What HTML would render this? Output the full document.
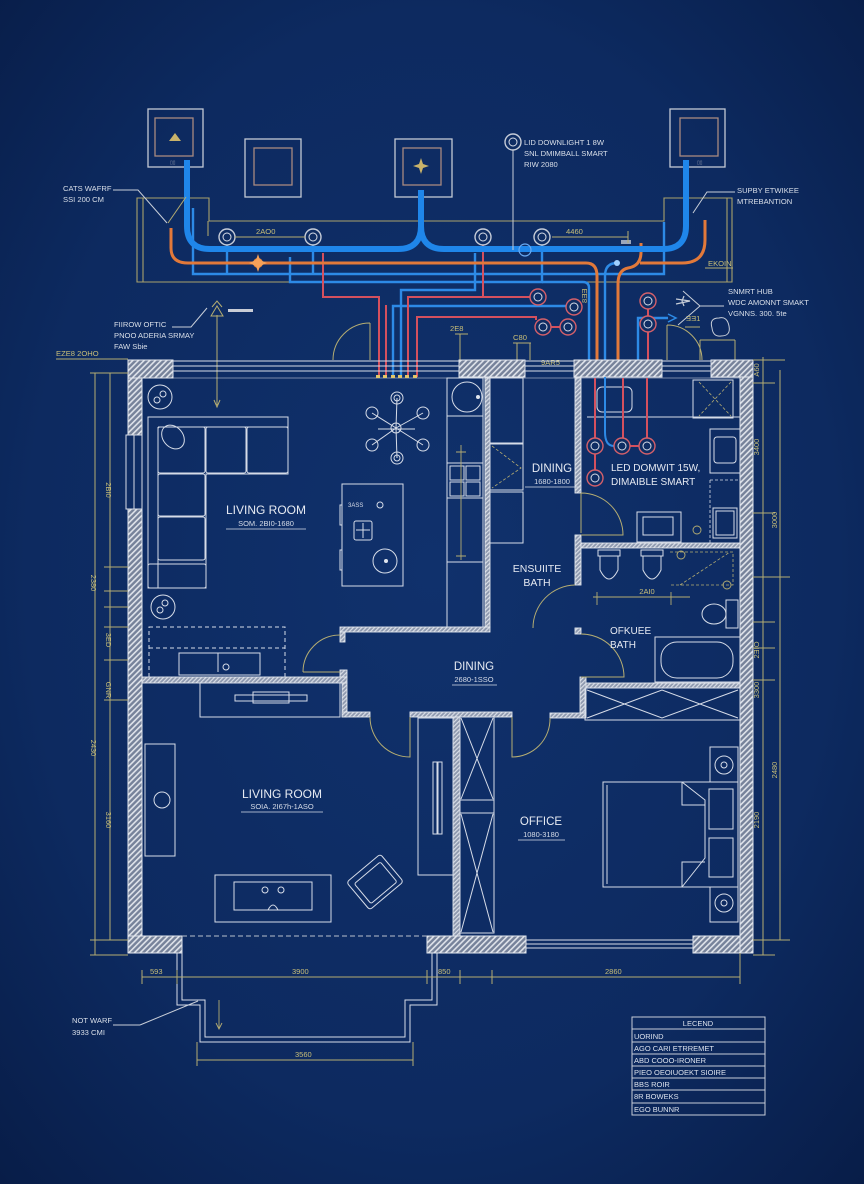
<!DOCTYPE html>
<html><head><meta charset="utf-8"><style>html,body{margin:0;padding:0;background:#0c275a}svg{display:block}</style></head><body>
<svg width="864" height="1184" viewBox="0 0 864 1184" xmlns="http://www.w3.org/2000/svg" font-family="Liberation Sans, sans-serif">
<defs>
<radialGradient id="bg" cx="50%" cy="48%" r="72%"><stop offset="0" stop-color="#10316c"/><stop offset="0.65" stop-color="#0d2a60"/><stop offset="1" stop-color="#081d48"/></radialGradient>
<pattern id="h" width="4" height="4" patternUnits="userSpaceOnUse" patternTransform="rotate(45)"><rect width="4" height="4" fill="#76829a"/><rect width="1.6" height="4" fill="#dfe3ea"/></pattern>
<pattern id="h2" width="3" height="3" patternUnits="userSpaceOnUse" patternTransform="rotate(45)"><rect width="3" height="3" fill="#8d98ae"/><rect width="1.2" height="3" fill="#d8dde6"/></pattern>
</defs>
<rect width="864" height="1184" fill="url(#bg)"/>

<!-- ===== TOP ZONE ===== -->
<g fill="none" stroke="#c3c9d4" stroke-width="1.3">
<rect x="148" y="109" width="55" height="58"/>
<rect x="245" y="139" width="56" height="58"/>
<rect x="395" y="139" width="57" height="58"/>
<rect x="670" y="109" width="55" height="58"/>
</g>
<g fill="none" stroke="#a88a80" stroke-width="1.3">
<rect x="155" y="118" width="38" height="38"/>
<rect x="254" y="148" width="38" height="37"/>
<rect x="403" y="148" width="38" height="37"/>
<rect x="680" y="118" width="38" height="38"/>
</g>
<path d="M169,141 L175,133 L181,141 Z" fill="#c9b36a"/>
<path d="M421,158 L423,164 L429,166 L423,168 L421,174 L419,168 L413,166 L419,164 Z" fill="#c9b36a"/>
<text x="170" y="164" font-size="5" fill="#8b93a6">▯▯</text>
<text x="697" y="164" font-size="5" fill="#8b93a6">▯▯</text>

<!-- olive frame -->
<g fill="none" stroke="#a9a26c" stroke-width="1.1">
<path d="M137,198 H209 V221 H664 V198 H732 V282 H137 Z"/>
<line x1="143" y1="198" x2="143" y2="282"/>
<line x1="727" y1="198" x2="727" y2="282"/>
<line x1="208" y1="221" x2="208" y2="236"/>
</g>

<!-- thin blue pipes -->
<g fill="none" stroke="#2d8ae6" stroke-width="2.4">
<path d="M193,208 V274 H664 V222"/>
<path d="M227,245 V274"/>
<path d="M313,245 V274"/>
<path d="M542,245 V282 H290 V257"/>
<path d="M589,377 V288 Q589,282 583,282 H542"/>
<path d="M475,253 V290 H401 V377"/>
<path d="M393,377 V306 H566"/>
<path d="M617,263 Q605,263 605,276 V377"/>
<path d="M638,377 V318 H668"/>
</g>
<path d="M668,314 L676,318 L668,322" fill="none" stroke="#2d8ae6" stroke-width="1.5"/>
<!-- red pipes -->
<g fill="none" stroke="#d4505e" stroke-width="2">
<path d="M323,253 V297 H379 V377"/>
<path d="M386,305 V377"/>
<path d="M483,245 V297 H408 V377"/>
<path d="M483,297 H530"/>
<path d="M417,377 V317 H536 V320"/>
<path d="M551,327 H560"/>
<path d="M648,309 V316"/>
<path d="M648,332 V377"/>
</g>
<!-- orange pipes -->
<g fill="none" stroke="#e2793a" stroke-width="3">
<path d="M171,228 V248 Q171,263 188,263 H586 Q597,263 597,276 V377"/>
<path d="M641,243 V252 Q641,266 628,268 Q618,270 618,284 V377"/>
<path d="M705,220 V240 Q705,263 682,263 H640"/>
</g>
<circle cx="258" cy="263" r="5" fill="#f08a3a"/>
<path d="M258,254 L260,260 L267,263 L260,266 L258,272 L256,266 L249,263 L256,260 Z" fill="#f5a15a"/>
<!-- thick blue main -->
<path d="M187,160 V226 Q187,249 210,249 H398 Q421,249 421,226 V190 M421,226 Q421,249 444,249 H663 Q686,249 686,226 V160" fill="none" stroke="#1f86ea" stroke-width="6"/>
<circle cx="525" cy="250" r="6" fill="none" stroke="#6aaaf2" stroke-width="1.2"/>
<circle cx="617" cy="263" r="3" fill="#9fd0ff"/>
<rect x="621" y="240" width="10" height="4" fill="#9aa6bb"/>

<!-- sensor circles -->
<g stroke-width="1.4">
<g fill="#0f2d63" stroke="#c6ccd8">
<circle cx="227" cy="237" r="8"/><circle cx="313" cy="237" r="8"/>
<circle cx="483" cy="237" r="8"/><circle cx="542" cy="237" r="8"/>
<circle cx="513" cy="142" r="8"/>
</g>
<g fill="#0f2d63" stroke="#d4606a">
<circle cx="538" cy="297" r="8"/><circle cx="574" cy="307" r="8"/>
<circle cx="543" cy="327" r="8"/><circle cx="568" cy="327" r="8"/>
<circle cx="648" cy="301" r="8"/><circle cx="648" cy="324" r="8"/>
</g>
<g fill="none" stroke="#d8dde8" stroke-width="1">
<circle cx="227" cy="237" r="4"/><circle cx="313" cy="237" r="4"/>
<circle cx="483" cy="237" r="4"/><circle cx="542" cy="237" r="4"/><circle cx="513" cy="142" r="4"/>
<circle cx="538" cy="297" r="4"/><circle cx="574" cy="307" r="4"/>
<circle cx="543" cy="327" r="4"/><circle cx="568" cy="327" r="4"/>
<circle cx="648" cy="301" r="4"/><circle cx="648" cy="324" r="4"/>
</g>
</g>

<!-- dims / leaders top -->
<g fill="none" stroke="#b5ad72" stroke-width="1">
<line x1="235" y1="237" x2="305" y2="237"/>
<line x1="552" y1="237" x2="628" y2="237"/><line x1="628" y1="231" x2="628" y2="243"/>
<line x1="705" y1="268" x2="733" y2="268"/>
<line x1="455" y1="334" x2="468" y2="334"/><line x1="460" y1="334" x2="460" y2="360"/>
<line x1="513" y1="343" x2="531" y2="343"/><line x1="517" y1="343" x2="517" y2="360"/><line x1="530" y1="343" x2="530" y2="360"/>
<line x1="520" y1="366" x2="575" y2="366"/>
<line x1="685" y1="327" x2="700" y2="327"/><line x1="700" y1="340" x2="735" y2="340"/>
<line x1="700" y1="340" x2="700" y2="360"/><line x1="735" y1="340" x2="735" y2="360"/>
<line x1="217" y1="315" x2="217" y2="405"/>
<path d="M214,400 L217,407 L220,400"/>
<path d="M211,316 L217,306 L223,316 Z"/>
<path d="M212,307 L217,301 L222,307"/>
<line x1="56" y1="359" x2="128" y2="359"/>
<path d="M370,323 V360 M333,360 A37,37 0 0 1 370,323"/>
<path d="M667,325 V360 M667,325 A35,35 0 0 1 702,360"/>
<path d="M168,223 L186,197"/>
</g>
<rect x="228" y="309" width="25" height="3" fill="#c8ccd6"/>
<g fill="none" stroke="#c8ced8" stroke-width="1">
<path d="M113,190 H138 L167,223"/>
<line x1="513" y1="150" x2="513" y2="250"/>
<path d="M735,192 H707 L693,213"/>
<path d="M724,306 H700 L683,291 M700,306 L678,325"/>
<path d="M172,327 H191 L207,308"/>
<path d="M140,1025 L198,1001 M113,1025 H140"/>
</g>
<path d="M676,299 L690,301 L676,304 M684,296 L682,301 L684,306" fill="none" stroke="#c8ced8" stroke-width="1.2"/>
<path d="M712,328 q-3,-10 7,-10 q8,-2 10,8 q2,10 -8,10 q-8,1 -9,-8z" fill="none" stroke="#c8ced8" stroke-width="1"/>

<g font-size="7.6" fill="#d9dfe9">
<text x="63" y="191">CATS WAFRF</text>
<text x="63" y="202">SSI 200 CM</text>
<text x="524" y="145">LID DOWNLIGHT 1 8W</text>
<text x="524" y="156">SNL DMIMBALL SMART</text>
<text x="524" y="167">RIW 2080</text>
<text x="737" y="193">SUPBY ETWIKEE</text>
<text x="737" y="204">MTREBANTION</text>
<text x="728" y="294">SNMRT HUB</text>
<text x="728" y="305">WDC AMONNT SMAKT</text>
<text x="728" y="316">VGNNS. 300. 5te</text>
<text x="114" y="327">FIIROW OFTIC</text>
<text x="114" y="338">PNOO ADERIA SRMAY</text>
<text x="114" y="349">FAW Sbie</text>
<text x="72" y="1023">NOT WARF</text>
<text x="72" y="1035">3933 CMI</text>
</g>
<g font-size="7.6" fill="#c9bf78">
<text x="256" y="234">2AO0</text>
<text x="566" y="234">4460</text>
<text x="708" y="266">EKOIN</text>
<text x="450" y="331">2E8</text>
<text x="513" y="340">C80</text>
<text x="541" y="365">9AR5</text>
<text x="686" y="321">ƎƎ1</text>
<text x="56" y="356">EZE8 2OHO</text>
<text x="0" y="0" transform="translate(587,303) rotate(-90)">8ƎƎ</text>
</g>

<!-- ===== BUILDING WALLS ===== -->
<g fill="url(#h)" stroke="#e3e7ee" stroke-width="1">
<rect x="128" y="360" width="45" height="18"/>
<rect x="459" y="360" width="66" height="17"/>
<rect x="574" y="360" width="88" height="17"/>
<rect x="711" y="360" width="42" height="17"/>
<rect x="128" y="378" width="14" height="57"/>
<rect x="128" y="509" width="14" height="444"/>
<rect x="740" y="377" width="13" height="576"/>
<rect x="128" y="936" width="54" height="17"/>
<rect x="427" y="936" width="99" height="17"/>
<rect x="693" y="936" width="47" height="17"/>
</g>
<!-- windows -->
<g fill="none" stroke="#d8dde7" stroke-width="1">
<rect x="173" y="361" width="286" height="10"/><line x1="173" y1="366" x2="459" y2="366"/>
<rect x="525" y="361" width="49" height="10"/><line x1="525" y1="366" x2="574" y2="366"/>
<rect x="662" y="361" width="49" height="10"/><line x1="662" y1="366" x2="711" y2="366"/>
<rect x="126" y="435" width="16" height="74"/><line x1="134" y1="435" x2="134" y2="509"/>
<rect x="526" y="940" width="167" height="8"/><line x1="526" y1="944" x2="693" y2="944"/>
<line x1="142" y1="378" x2="740" y2="378" stroke-width="0.8" opacity="0.7"/>
</g>
<g fill="#e2c66a"><rect x="376" y="375" width="4" height="3"/><rect x="383" y="375" width="4" height="3"/><rect x="391" y="375" width="4" height="3"/><rect x="398" y="375" width="4" height="3"/><rect x="405" y="375" width="4" height="3"/><rect x="413" y="375" width="4" height="3"/></g>
<line x1="182" y1="936" x2="427" y2="936" stroke="#b9c0cc" stroke-width="1" stroke-dasharray="5,3"/>

<!-- interior walls -->
<g fill="url(#h2)" stroke="#e3e7ee" stroke-width="0.9">
<rect x="142" y="677" width="205" height="6"/>
<rect x="342" y="683" width="5" height="34"/>
<rect x="342" y="712" width="28" height="5"/>
<rect x="340" y="627" width="150" height="5"/>
<rect x="340" y="632" width="5" height="10"/>
<rect x="340" y="670" width="7" height="7"/>
<rect x="485" y="378" width="5" height="249"/>
<rect x="575" y="378" width="6" height="115"/>
<rect x="575" y="535" width="6" height="50"/>
<rect x="575" y="628" width="6" height="6"/>
<rect x="580" y="677" width="6" height="36"/>
<rect x="581" y="543" width="159" height="5"/>
<rect x="586" y="683" width="154" height="5"/>
<rect x="550" y="713" width="36" height="5"/>
<rect x="410" y="712" width="102" height="5"/>
<rect x="453" y="717" width="7" height="219"/>
</g>
<!-- doors -->
<g fill="none" stroke="#b5ad72" stroke-width="1">
<path d="M303,672 H340 M303,672 A37,37 0 0 1 340,635"/>
<path d="M581,493 V533 M581,493 A42,42 0 0 1 623,535 H581"/>
<path d="M575,585 A43,43 0 0 0 533,628"/>
<path d="M581,634 A43,43 0 0 1 624,677 H581"/>
<path d="M370,717 A40,40 0 0 0 410,757 V717"/>
<path d="M550,718 A38,38 0 0 1 512,757 V717"/>
</g>

<!-- ===== UPPER LIVING ===== -->
<g fill="none" stroke="#d6dce8" stroke-width="1">
<!-- sofa -->
<path d="M148,417 H288 V474 H206 V588 H148 Z"/>
<path d="M158,427 H288 M158,427 V588"/>
<rect x="158" y="427" width="47" height="46" rx="2"/>
<rect x="206" y="427" width="40" height="46" rx="2"/>
<rect x="247" y="427" width="41" height="46" rx="2"/>
<rect x="158" y="474" width="47" height="42" rx="2"/>
<rect x="158" y="517" width="47" height="43" rx="2"/>
<rect x="148" y="564" width="58" height="24" rx="2"/>
<ellipse cx="173" cy="437" rx="10" ry="13" transform="rotate(-40 173 437)"/>
<circle cx="160" cy="397" r="12"/><circle cx="157" cy="400" r="3"/><circle cx="163" cy="394" r="3"/>
<circle cx="163" cy="607" r="12"/><circle cx="160" cy="610" r="3"/><circle cx="165" cy="603" r="3"/>
<!-- chandelier -->
<path d="M396,428 L397,398 M396,428 L372,413 M396,428 L423,413 M396,428 L372,445 M396,428 L423,445 M396,428 L397,458 M378,429 H415"/>
<circle cx="396" cy="428" r="5"/>
<circle cx="397" cy="398" r="6"/><circle cx="372" cy="413" r="6"/><circle cx="423" cy="413" r="6"/>
<circle cx="372" cy="445" r="6"/><circle cx="423" cy="445" r="6"/><circle cx="397" cy="458" r="6"/>
<circle cx="397" cy="398" r="3"/><circle cx="397" cy="458" r="3"/>
<!-- island -->
<rect x="342" y="484" width="61" height="102"/>
<rect x="340" y="505" width="2" height="20"/><rect x="340" y="550" width="2" height="20"/>
<rect x="354" y="521" width="18" height="19" rx="2"/>
<path d="M356,530 H370 M363,523 V538"/>
<circle cx="385" cy="561" r="12"/>
<circle cx="380" cy="505" r="3"/>
<!-- rug / media -->
<rect x="149" y="627" width="136" height="50" stroke-dasharray="4,3"/>
<line x1="149" y1="648" x2="285" y2="648" stroke-dasharray="4,3"/>
<rect x="179" y="653" width="81" height="22"/>
<line x1="218" y1="653" x2="218" y2="672"/>
<circle cx="226" cy="667" r="3"/>
<!-- kitchen -->
<rect x="447" y="378" width="36" height="249"/>
<line x1="447" y1="416" x2="483" y2="416"/>
<line x1="447" y1="463" x2="483" y2="463"/>
<line x1="447" y1="498" x2="483" y2="498"/>
<line x1="447" y1="562" x2="483" y2="562"/>
<circle cx="467" cy="397" r="15"/>
<rect x="450" y="466" width="14" height="14"/><rect x="466" y="466" width="14" height="14"/>
<rect x="450" y="482" width="14" height="14"/><rect x="466" y="482" width="14" height="14"/>
<rect x="490" y="378" width="33" height="65"/>
<rect x="490" y="444" width="33" height="46"/>
<rect x="490" y="492" width="33" height="51"/>
</g>
<circle cx="386" cy="561" r="2" fill="#e0e5ee"/>
<circle cx="478" cy="397" r="2" fill="#e0e5ee"/>
<path d="M492,446 L521,468 L492,488" fill="none" stroke="#b5ad72" stroke-width="0.8" stroke-dasharray="3,2"/>
<path d="M461,445 V560 M456,452 H466 M456,556 H466" fill="none" stroke="#b5ad72" stroke-width="0.9"/>
<text x="348" y="507" font-size="6" fill="#d6dce8">3ASS</text>

<!-- ===== RIGHT BATHS ===== -->
<g fill="none" stroke="#d6dce8" stroke-width="1">
<rect x="597" y="387" width="35" height="25" rx="5"/>
<rect x="693" y="380" width="40" height="38"/>
<line x1="587" y1="417" x2="740" y2="417"/>
<rect x="710" y="429" width="30" height="44"/>
<rect x="714" y="437" width="22" height="26" rx="3"/>
<rect x="713" y="508" width="24" height="30"/>
<rect x="716" y="511" width="18" height="24"/>
<rect x="637" y="512" width="44" height="30"/>
<rect x="643" y="517" width="30" height="18"/>
<rect x="598" y="550" width="22" height="6"/>
<path d="M600,556 V570 Q609,588 618,570 V556"/>
<rect x="641" y="550" width="22" height="6"/>
<path d="M643,556 V570 Q652,588 661,570 V556"/>
<rect x="726" y="600" width="12" height="28"/>
<ellipse cx="714" cy="614" rx="12" ry="10"/>
<rect x="655" y="637" width="85" height="45"/>
<rect x="661" y="642" width="72" height="36" rx="16"/>
<!-- bath X box -->
<rect x="585" y="688" width="155" height="32"/>
<path d="M587,690 L662,718 L738,690 M587,718 L662,690 L738,718"/>
<!-- bedroom -->
<rect x="603" y="782" width="135" height="105"/>
<line x1="607" y1="785" x2="607" y2="884"/>
<path d="M682,782 L705,800 V858 L682,887 M682,782 V805 H705 M682,887 V862 H705"/>
<rect x="709" y="789" width="24" height="40"/>
<rect x="709" y="838" width="24" height="39"/>
<rect x="710" y="747" width="28" height="35"/>
<rect x="710" y="887" width="28" height="35"/>
<circle cx="724" cy="765" r="9"/><circle cx="724" cy="903" r="9"/>
<circle cx="724" cy="765" r="3"/><circle cx="724" cy="903" r="3"/>
<!-- closets / cabinet -->
<rect x="460" y="717" width="34" height="216"/>
<line x1="460" y1="800" x2="494" y2="800"/><line x1="460" y1="813" x2="494" y2="813"/>
<path d="M461,718 L493,799 M493,718 L461,799 M461,814 L493,932 M493,814 L461,932"/>
<rect x="418" y="718" width="35" height="157"/>
<rect x="433" y="762" width="4" height="72"/><rect x="438" y="762" width="4" height="72"/>
<!-- lower living -->
<rect x="200" y="683" width="140" height="34"/>
<rect x="235" y="695" width="72" height="6"/>
<rect x="253" y="692" width="36" height="11"/>
<rect x="145" y="744" width="30" height="112"/>
<circle cx="162" cy="800" r="8"/>
<rect x="215" y="875" width="116" height="47"/>
<rect x="234" y="882" width="78" height="28"/>
<circle cx="265" cy="890" r="3"/><circle cx="281" cy="890" r="3"/>
<path d="M268,910 Q273,900 278,910"/>
<g transform="translate(375,882) rotate(-40)"><rect x="-22" y="-18" width="44" height="36" rx="3"/><rect x="-17" y="-12" width="34" height="26" rx="2"/></g>
<!-- balcony -->
<path d="M177,953 V1005 H200 V1042 H410 V1005 H437 V953"/>
<path d="M182,953 V1000 H205 V1037 H405 V1000 H432 V953"/>
</g>
<path d="M699,382 L731,416 M731,382 L699,416" stroke="#b5ad72" stroke-width="0.8" stroke-dasharray="3,2"/>
<path d="M710,480 H740 M710,480 V545" stroke="#d6dce8" stroke-width="0.8" stroke-dasharray="3,2" fill="none"/>
<path d="M670,552 H733 V585 H670 M680,585 L730,552" stroke="#b5ad72" stroke-width="0.8" stroke-dasharray="3,2" fill="none"/>
<g fill="none" stroke="#b5ad72" stroke-width="0.9">
<circle cx="681" cy="555" r="4"/><circle cx="727" cy="585" r="4"/><circle cx="697" cy="530" r="4"/>
<line x1="593" y1="597" x2="690" y2="597"/><line x1="597" y1="592" x2="597" y2="605"/><line x1="671" y1="592" x2="671" y2="605"/>
<line x1="219" y1="1000" x2="219" y2="1028"/><path d="M216,1023 L219,1029 L222,1023"/>
</g>
<!-- right bath pipes -->
<g fill="none" stroke-width="2">
<path d="M595,378 V438 M595,454 V470" stroke="#d4505e"/>
<path d="M605,377 V432 Q605,446 614,446" stroke="#2d8ae6"/>
<path d="M623,378 V438" stroke="#d4505e"/>
<path d="M647,378 V438" stroke="#d4505e"/>
<path d="M630,446 H639" stroke="#d4505e"/>
</g>
<g fill="#0f2d63" stroke="#d4606a" stroke-width="1.4">
<circle cx="595" cy="446" r="8"/><circle cx="622" cy="446" r="8"/><circle cx="647" cy="446" r="8"/><circle cx="595" cy="478" r="8"/>
</g>
<g fill="none" stroke="#d8dde8" stroke-width="1"><circle cx="595" cy="446" r="4"/><circle cx="622" cy="446" r="4"/><circle cx="647" cy="446" r="4"/><circle cx="595" cy="478" r="4"/></g>

<!-- ===== DIMENSIONS ===== -->
<g fill="none" stroke="#b5ad72" stroke-width="1">
<line x1="95" y1="373" x2="95" y2="955"/>
<line x1="110" y1="373" x2="110" y2="940"/>
<path d="M90,373 H128 M104,567 H128 M104,591 H128 M104,607 H128 M104,627 H128 M104,660 H128 M104,700 H128 M90,940 H128 M90,955 H128"/>
<line x1="763" y1="357" x2="763" y2="955"/>
<line x1="780" y1="370" x2="780" y2="940"/>
<path d="M753,360 H785 M753,383 H775 M753,513 H775 M753,577 H790 M753,622 H775 M753,648 H775 M753,680 H775 M753,940 H790 M753,955 H775"/>
<line x1="142" y1="977" x2="460" y2="977"/>
<line x1="460" y1="977" x2="740" y2="977"/>
<path d="M142,970 V984 M177,970 V984 M427,970 V984 M460,970 V984 M492,970 V984 M740,953 V984"/>
<line x1="197" y1="1060" x2="413" y2="1060"/>
<path d="M197,1042 V1066 M413,1042 V1066"/>
</g>
<g font-size="7.5" fill="#c9bf78">
<text x="150" y="974">593</text>
<text x="292" y="974">3900</text>
<text x="438" y="974">850</text>
<text x="605" y="974">2860</text>
<text x="295" y="1057">3560</text>
<g text-anchor="middle">
<text transform="translate(106,490) rotate(90)">2BI0</text>
<text transform="translate(91,583) rotate(90)">2380</text>
<text transform="translate(106,640) rotate(90)">3ED</text>
<text transform="translate(106,690) rotate(90)">GNR</text>
<text transform="translate(91,748) rotate(90)">2430</text>
<text transform="translate(106,820) rotate(90)">3160</text>
<text transform="translate(759,370) rotate(-90)">A60</text>
<text transform="translate(759,447) rotate(-90)">3400</text>
<text transform="translate(777,520) rotate(-90)">3000</text>
<text transform="translate(759,650) rotate(-90)">2ƎIO</text>
<text transform="translate(759,690) rotate(-90)">3300</text>
<text transform="translate(777,770) rotate(-90)">2480</text>
<text transform="translate(759,820) rotate(-90)">2190</text>
</g>
</g>

<!-- ===== ROOM LABELS ===== -->
<g fill="#e6eaf2" text-anchor="middle">
<text x="266" y="514" font-size="12">LIVING ROOM</text>
<text x="282" y="798" font-size="12">LIVING ROOM</text>
<text x="552" y="472" font-size="11.5">DINING</text>
<text x="474" y="670" font-size="11.5">DINING</text>
<text x="541" y="825" font-size="11.5">OFFICE</text>
<text x="537" y="572" font-size="10.5">ENSUIITE</text>
<text x="537" y="586" font-size="10.5">BATH</text>
</g>
<g fill="#e6eaf2" font-size="10">
<text x="610" y="634">OFKUEE</text>
<text x="610" y="648">BATH</text>
<text x="611" y="471">LED DOMWIT 15W,</text>
<text x="611" y="485">DIMAIBLE SMART</text>
</g>
<g fill="#d6dce8" font-size="7.5" text-anchor="middle">
<text x="266" y="526">SOM. 2BI0-1680</text>
<text x="282" y="809">SOIA. 2I67h-1ASO</text>
<text x="552" y="484">1680-1800</text>
<text x="474" y="682">2680-1SSO</text>
<text x="541" y="837">1080-3180</text>
<text x="647" y="594" fill="#c9bf78">2AI0</text>
</g>
<g stroke="#d6dce8" stroke-width="0.8">
<line x1="226" y1="529" x2="306" y2="529"/>
<line x1="241" y1="812" x2="323" y2="812"/>
<line x1="525" y1="487" x2="580" y2="487"/>
<line x1="452" y1="685" x2="497" y2="685"/>
<line x1="518" y1="840" x2="565" y2="840"/>
</g>

<!-- ===== LEGEND ===== -->
<g fill="none" stroke="#c6ccd8" stroke-width="1">
<rect x="632" y="1017" width="133" height="98"/>
<path d="M632,1029 H765 M632,1042 H765 M632,1054 H765 M632,1066 H765 M632,1078 H765 M632,1090 H765 M632,1103 H765"/>
</g>
<g fill="#dbe1ec" font-size="7.5">
<text x="698" y="1026" text-anchor="middle">LECEND</text>
<text x="634" y="1039">UORIND</text>
<text x="634" y="1051">AGO  CARI ETRREMET</text>
<text x="634" y="1063">ABD  COOO-IRONER</text>
<text x="634" y="1075">PIEO  OEOIUOEKT SIOIRE</text>
<text x="634" y="1087">BBS  ROIR</text>
<text x="634" y="1099">8R  BOWEKS</text>
<text x="634" y="1112">EGO  BUNNR</text>
</g>
</svg>
</body></html>
